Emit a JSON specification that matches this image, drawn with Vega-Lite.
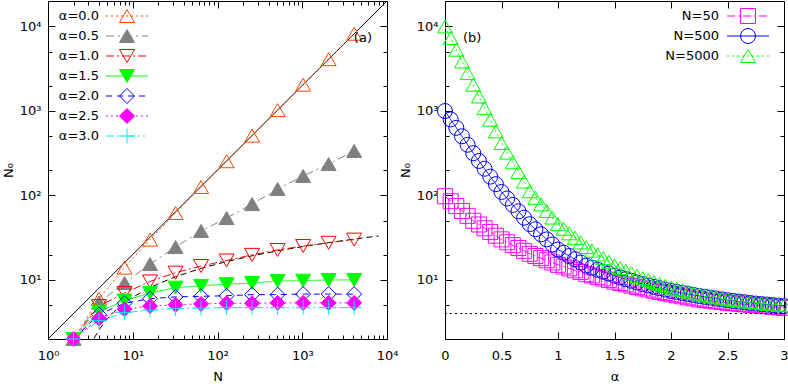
{
  "$schema": "https://vega.github.io/schema/vega-lite/v6.json",
  "background": "white",
  "padding": {"left": 1, "top": 0, "right": 0, "bottom": 0},
  "spacing": 58,
  "bounds": "flush",
  "resolve": {"scale": {"stroke": "independent", "strokeDash": "independent", "shape": "independent", "fill": "independent"}, "legend": {"stroke": "independent", "strokeDash": "independent", "shape": "independent", "fill": "independent"}},
  "config": {
    "font": "DejaVu Sans",
    "view": {"stroke": "black", "strokeWidth": 1},
    "axis": {"labelFont": "DejaVu Sans", "labelFontSize": 13, "labelColor": "black", "titleFont": "DejaVu Sans", "titleFontSize": 13, "titleFontWeight": "normal", "titleColor": "black", "tickColor": "black", "domain": false, "grid": false, "labelFlush": false, "labelOverlap": false, "labelBound": false, "offset": 0},
    "legend": {"labelFont": "DejaVu Sans", "labelFontSize": 13, "labelColor": "black", "labelLimit": 0, "padding": 0}
  },
  "datasets": {
    "diag": [{"N": 1, "N0": 2}, {"N": 10000, "N0": 20000}],
    "fit": [
      {"N": 3.5, "N0": 2.04}, {"N": 4, "N0": 2.57}, {"N": 5, "N0": 3.47}, {"N": 6, "N0": 4.2}, {"N": 8, "N0": 5.36}, {"N": 10, "N0": 6.26}, {"N": 16, "N0": 8.15}, {"N": 32, "N0": 10.93}, {"N": 64, "N0": 13.72}, {"N": 128, "N0": 16.51}, {"N": 256, "N0": 19.29}, {"N": 512, "N0": 22.08}, {"N": 1024, "N0": 24.86}, {"N": 2048, "N0": 27.65}, {"N": 4096, "N0": 30.44}, {"N": 8000, "N0": 33.13}
    ],
    "left": [
      {"alpha": "α=0.0", "N": 2, "N0": 2}, {"alpha": "α=0.0", "N": 4, "N0": 6}, {"alpha": "α=0.0", "N": 8, "N0": 14}, {"alpha": "α=0.0", "N": 16, "N0": 30}, {"alpha": "α=0.0", "N": 32, "N0": 62}, {"alpha": "α=0.0", "N": 64, "N0": 126}, {"alpha": "α=0.0", "N": 128, "N0": 254}, {"alpha": "α=0.0", "N": 256, "N0": 510}, {"alpha": "α=0.0", "N": 512, "N0": 1022}, {"alpha": "α=0.0", "N": 1024, "N0": 2046}, {"alpha": "α=0.0", "N": 2048, "N0": 4094}, {"alpha": "α=0.0", "N": 4096, "N0": 8190},
      {"alpha": "α=0.5", "N": 2, "N0": 2}, {"alpha": "α=0.5", "N": 4, "N0": 5.4}, {"alpha": "α=0.5", "N": 8, "N0": 9.2}, {"alpha": "α=0.5", "N": 16, "N0": 15.4}, {"alpha": "α=0.5", "N": 32, "N0": 24.5}, {"alpha": "α=0.5", "N": 64, "N0": 38}, {"alpha": "α=0.5", "N": 128, "N0": 54}, {"alpha": "α=0.5", "N": 256, "N0": 79}, {"alpha": "α=0.5", "N": 512, "N0": 119}, {"alpha": "α=0.5", "N": 1024, "N0": 170}, {"alpha": "α=0.5", "N": 2048, "N0": 235}, {"alpha": "α=0.5", "N": 4096, "N0": 336},
      {"alpha": "α=1.0", "N": 2, "N0": 2}, {"alpha": "α=1.0", "N": 4, "N0": 4.9}, {"alpha": "α=1.0", "N": 8, "N0": 7.0}, {"alpha": "α=1.0", "N": 16, "N0": 9.6}, {"alpha": "α=1.0", "N": 32, "N0": 12.2}, {"alpha": "α=1.0", "N": 64, "N0": 14.6}, {"alpha": "α=1.0", "N": 128, "N0": 17.0}, {"alpha": "α=1.0", "N": 256, "N0": 19.8}, {"alpha": "α=1.0", "N": 512, "N0": 22.6}, {"alpha": "α=1.0", "N": 1024, "N0": 25.2}, {"alpha": "α=1.0", "N": 2048, "N0": 27.5}, {"alpha": "α=1.0", "N": 4096, "N0": 30.0},
      {"alpha": "α=1.5", "N": 2, "N0": 2}, {"alpha": "α=1.5", "N": 4, "N0": 4.2}, {"alpha": "α=1.5", "N": 8, "N0": 5.7}, {"alpha": "α=1.5", "N": 16, "N0": 7.0}, {"alpha": "α=1.5", "N": 32, "N0": 8.1}, {"alpha": "α=1.5", "N": 64, "N0": 8.5}, {"alpha": "α=1.5", "N": 128, "N0": 8.9}, {"alpha": "α=1.5", "N": 256, "N0": 9.2}, {"alpha": "α=1.5", "N": 512, "N0": 9.7}, {"alpha": "α=1.5", "N": 1024, "N0": 9.8}, {"alpha": "α=1.5", "N": 2048, "N0": 10.0}, {"alpha": "α=1.5", "N": 4096, "N0": 10.0},
      {"alpha": "α=2.0", "N": 2, "N0": 2}, {"alpha": "α=2.0", "N": 4, "N0": 3.9}, {"alpha": "α=2.0", "N": 8, "N0": 5.3}, {"alpha": "α=2.0", "N": 16, "N0": 6.0}, {"alpha": "α=2.0", "N": 32, "N0": 6.3}, {"alpha": "α=2.0", "N": 64, "N0": 6.4}, {"alpha": "α=2.0", "N": 128, "N0": 6.5}, {"alpha": "α=2.0", "N": 256, "N0": 6.7}, {"alpha": "α=2.0", "N": 512, "N0": 6.7}, {"alpha": "α=2.0", "N": 1024, "N0": 6.8}, {"alpha": "α=2.0", "N": 2048, "N0": 6.8}, {"alpha": "α=2.0", "N": 4096, "N0": 6.8},
      {"alpha": "α=2.5", "N": 2, "N0": 2}, {"alpha": "α=2.5", "N": 4, "N0": 3.5}, {"alpha": "α=2.5", "N": 8, "N0": 4.5}, {"alpha": "α=2.5", "N": 16, "N0": 4.9}, {"alpha": "α=2.5", "N": 32, "N0": 5.1}, {"alpha": "α=2.5", "N": 64, "N0": 5.2}, {"alpha": "α=2.5", "N": 128, "N0": 5.3}, {"alpha": "α=2.5", "N": 256, "N0": 5.3}, {"alpha": "α=2.5", "N": 512, "N0": 5.35}, {"alpha": "α=2.5", "N": 1024, "N0": 5.35}, {"alpha": "α=2.5", "N": 2048, "N0": 5.35}, {"alpha": "α=2.5", "N": 4096, "N0": 5.35},
      {"alpha": "α=3.0", "N": 2, "N0": 2}, {"alpha": "α=3.0", "N": 4, "N0": 3.3}, {"alpha": "α=3.0", "N": 8, "N0": 4.1}, {"alpha": "α=3.0", "N": 16, "N0": 4.4}, {"alpha": "α=3.0", "N": 32, "N0": 4.6}, {"alpha": "α=3.0", "N": 64, "N0": 4.65}, {"alpha": "α=3.0", "N": 128, "N0": 4.7}, {"alpha": "α=3.0", "N": 256, "N0": 4.7}, {"alpha": "α=3.0", "N": 512, "N0": 4.7}, {"alpha": "α=3.0", "N": 1024, "N0": 4.7}, {"alpha": "α=3.0", "N": 2048, "N0": 4.7}, {"alpha": "α=3.0", "N": 4096, "N0": 4.7}
    ],
    "right": [
      {"N": "N=50", "alpha": 0, "N0": 98}, {"N": "N=50", "alpha": 0.05, "N0": 85.5}, {"N": "N=50", "alpha": 0.1, "N0": 74.8}, {"N": "N=50", "alpha": 0.15, "N0": 65.5}, {"N": "N=50", "alpha": 0.2, "N0": 57.3}, {"N": "N=50", "alpha": 0.25, "N0": 50.1}, {"N": "N=50", "alpha": 0.3, "N0": 45.3}, {"N": "N=50", "alpha": 0.35, "N0": 40.9}, {"N": "N=50", "alpha": 0.4, "N0": 37.0}, {"N": "N=50", "alpha": 0.45, "N0": 33.4}, {"N": "N=50", "alpha": 0.5, "N0": 30.2}, {"N": "N=50", "alpha": 0.55, "N0": 27.9}, {"N": "N=50", "alpha": 0.6, "N0": 25.8}, {"N": "N=50", "alpha": 0.65, "N0": 23.9}, {"N": "N=50", "alpha": 0.7, "N0": 22.1}, {"N": "N=50", "alpha": 0.75, "N0": 20.4}, {"N": "N=50", "alpha": 0.8, "N0": 19.2}, {"N": "N=50", "alpha": 0.85, "N0": 18.1}, {"N": "N=50", "alpha": 0.9, "N0": 17.1}, {"N": "N=50", "alpha": 0.95, "N0": 16.1}, {"N": "N=50", "alpha": 1.0, "N0": 15.1}, {"N": "N=50", "alpha": 1.05, "N0": 14.4}, {"N": "N=50", "alpha": 1.1, "N0": 13.7}, {"N": "N=50", "alpha": 1.15, "N0": 13.0}, {"N": "N=50", "alpha": 1.2, "N0": 12.4}, {"N": "N=50", "alpha": 1.25, "N0": 11.7}, {"N": "N=50", "alpha": 1.3, "N0": 11.3}, {"N": "N=50", "alpha": 1.35, "N0": 10.8}, {"N": "N=50", "alpha": 1.4, "N0": 10.4}, {"N": "N=50", "alpha": 1.45, "N0": 9.95}, {"N": "N=50", "alpha": 1.5, "N0": 9.55}, {"N": "N=50", "alpha": 1.55, "N0": 9.2}, {"N": "N=50", "alpha": 1.6, "N0": 8.87}, {"N": "N=50", "alpha": 1.65, "N0": 8.55}, {"N": "N=50", "alpha": 1.7, "N0": 8.24}, {"N": "N=50", "alpha": 1.75, "N0": 7.94}, {"N": "N=50", "alpha": 1.8, "N0": 7.69}, {"N": "N=50", "alpha": 1.85, "N0": 7.45}, {"N": "N=50", "alpha": 1.9, "N0": 7.21}, {"N": "N=50", "alpha": 1.95, "N0": 6.98}, {"N": "N=50", "alpha": 2.0, "N0": 6.76}, {"N": "N=50", "alpha": 2.05, "N0": 6.58}, {"N": "N=50", "alpha": 2.1, "N0": 6.4}, {"N": "N=50", "alpha": 2.15, "N0": 6.22}, {"N": "N=50", "alpha": 2.2, "N0": 6.05}, {"N": "N=50", "alpha": 2.25, "N0": 5.89}, {"N": "N=50", "alpha": 2.3, "N0": 5.78}, {"N": "N=50", "alpha": 2.35, "N0": 5.68}, {"N": "N=50", "alpha": 2.4, "N0": 5.57}, {"N": "N=50", "alpha": 2.45, "N0": 5.47}, {"N": "N=50", "alpha": 2.5, "N0": 5.37}, {"N": "N=50", "alpha": 2.55, "N0": 5.3}, {"N": "N=50", "alpha": 2.6, "N0": 5.22}, {"N": "N=50", "alpha": 2.65, "N0": 5.15}, {"N": "N=50", "alpha": 2.7, "N0": 5.08}, {"N": "N=50", "alpha": 2.75, "N0": 5.01}, {"N": "N=50", "alpha": 2.8, "N0": 4.94}, {"N": "N=50", "alpha": 2.85, "N0": 4.88}, {"N": "N=50", "alpha": 2.9, "N0": 4.81}, {"N": "N=50", "alpha": 2.95, "N0": 4.74}, {"N": "N=50", "alpha": 3.0, "N0": 4.68},
      {"N": "N=500", "alpha": 0, "N0": 998}, {"N": "N=500", "alpha": 0.05, "N0": 794}, {"N": "N=500", "alpha": 0.1, "N0": 631}, {"N": "N=500", "alpha": 0.15, "N0": 501}, {"N": "N=500", "alpha": 0.2, "N0": 398}, {"N": "N=500", "alpha": 0.25, "N0": 316}, {"N": "N=500", "alpha": 0.3, "N0": 256}, {"N": "N=500", "alpha": 0.35, "N0": 207}, {"N": "N=500", "alpha": 0.4, "N0": 167}, {"N": "N=500", "alpha": 0.45, "N0": 136}, {"N": "N=500", "alpha": 0.5, "N0": 110}, {"N": "N=500", "alpha": 0.55, "N0": 92.0}, {"N": "N=500", "alpha": 0.6, "N0": 77.3}, {"N": "N=500", "alpha": 0.65, "N0": 64.9}, {"N": "N=500", "alpha": 0.7, "N0": 54.5}, {"N": "N=500", "alpha": 0.75, "N0": 45.7}, {"N": "N=500", "alpha": 0.8, "N0": 39.8}, {"N": "N=500", "alpha": 0.85, "N0": 34.7}, {"N": "N=500", "alpha": 0.9, "N0": 30.2}, {"N": "N=500", "alpha": 0.95, "N0": 26.3}, {"N": "N=500", "alpha": 1.0, "N0": 22.9}, {"N": "N=500", "alpha": 1.05, "N0": 21.0}, {"N": "N=500", "alpha": 1.1, "N0": 19.2}, {"N": "N=500", "alpha": 1.15, "N0": 17.6}, {"N": "N=500", "alpha": 1.2, "N0": 16.1}, {"N": "N=500", "alpha": 1.25, "N0": 14.8}, {"N": "N=500", "alpha": 1.3, "N0": 14.0}, {"N": "N=500", "alpha": 1.35, "N0": 13.2}, {"N": "N=500", "alpha": 1.4, "N0": 12.5}, {"N": "N=500", "alpha": 1.45, "N0": 11.9}, {"N": "N=500", "alpha": 1.5, "N0": 11.2}, {"N": "N=500", "alpha": 1.55, "N0": 10.7}, {"N": "N=500", "alpha": 1.6, "N0": 10.2}, {"N": "N=500", "alpha": 1.65, "N0": 9.77}, {"N": "N=500", "alpha": 1.7, "N0": 9.33}, {"N": "N=500", "alpha": 1.75, "N0": 8.91}, {"N": "N=500", "alpha": 1.8, "N0": 8.59}, {"N": "N=500", "alpha": 1.85, "N0": 8.28}, {"N": "N=500", "alpha": 1.9, "N0": 7.98}, {"N": "N=500", "alpha": 1.95, "N0": 7.69}, {"N": "N=500", "alpha": 2.0, "N0": 7.41}, {"N": "N=500", "alpha": 2.05, "N0": 7.21}, {"N": "N=500", "alpha": 2.1, "N0": 7.01}, {"N": "N=500", "alpha": 2.15, "N0": 6.82}, {"N": "N=500", "alpha": 2.2, "N0": 6.64}, {"N": "N=500", "alpha": 2.25, "N0": 6.46}, {"N": "N=500", "alpha": 2.3, "N0": 6.31}, {"N": "N=500", "alpha": 2.35, "N0": 6.17}, {"N": "N=500", "alpha": 2.4, "N0": 6.03}, {"N": "N=500", "alpha": 2.45, "N0": 5.89}, {"N": "N=500", "alpha": 2.5, "N0": 5.75}, {"N": "N=500", "alpha": 2.55, "N0": 5.65}, {"N": "N=500", "alpha": 2.6, "N0": 5.55}, {"N": "N=500", "alpha": 2.65, "N0": 5.45}, {"N": "N=500", "alpha": 2.7, "N0": 5.35}, {"N": "N=500", "alpha": 2.75, "N0": 5.25}, {"N": "N=500", "alpha": 2.8, "N0": 5.18}, {"N": "N=500", "alpha": 2.85, "N0": 5.11}, {"N": "N=500", "alpha": 2.9, "N0": 5.04}, {"N": "N=500", "alpha": 2.95, "N0": 4.97}, {"N": "N=500", "alpha": 3.0, "N0": 4.9},
      {"N": "N=5000", "alpha": 0, "N0": 9998}, {"N": "N=5000", "alpha": 0.05, "N0": 7280}, {"N": "N=5000", "alpha": 0.1, "N0": 5300}, {"N": "N=5000", "alpha": 0.15, "N0": 3855}, {"N": "N=5000", "alpha": 0.2, "N0": 2805}, {"N": "N=5000", "alpha": 0.25, "N0": 2042}, {"N": "N=5000", "alpha": 0.3, "N0": 1486}, {"N": "N=5000", "alpha": 0.35, "N0": 1081}, {"N": "N=5000", "alpha": 0.4, "N0": 787}, {"N": "N=5000", "alpha": 0.45, "N0": 573}, {"N": "N=5000", "alpha": 0.5, "N0": 417}, {"N": "N=5000", "alpha": 0.55, "N0": 321}, {"N": "N=5000", "alpha": 0.6, "N0": 247}, {"N": "N=5000", "alpha": 0.65, "N0": 190}, {"N": "N=5000", "alpha": 0.7, "N0": 146}, {"N": "N=5000", "alpha": 0.75, "N0": 112}, {"N": "N=5000", "alpha": 0.8, "N0": 93.8}, {"N": "N=5000", "alpha": 0.85, "N0": 78.3}, {"N": "N=5000", "alpha": 0.9, "N0": 65.5}, {"N": "N=5000", "alpha": 0.95, "N0": 54.7}, {"N": "N=5000", "alpha": 1.0, "N0": 45.7}, {"N": "N=5000", "alpha": 1.05, "N0": 40.4}, {"N": "N=5000", "alpha": 1.1, "N0": 35.6}, {"N": "N=5000", "alpha": 1.15, "N0": 31.5}, {"N": "N=5000", "alpha": 1.2, "N0": 27.8}, {"N": "N=5000", "alpha": 1.25, "N0": 24.5}, {"N": "N=5000", "alpha": 1.3, "N0": 22.2}, {"N": "N=5000", "alpha": 1.35, "N0": 20.0}, {"N": "N=5000", "alpha": 1.4, "N0": 18.1}, {"N": "N=5000", "alpha": 1.45, "N0": 16.4}, {"N": "N=5000", "alpha": 1.5, "N0": 14.8}, {"N": "N=5000", "alpha": 1.55, "N0": 13.8}, {"N": "N=5000", "alpha": 1.6, "N0": 12.9}, {"N": "N=5000", "alpha": 1.65, "N0": 12.0}, {"N": "N=5000", "alpha": 1.7, "N0": 11.2}, {"N": "N=5000", "alpha": 1.75, "N0": 10.5}, {"N": "N=5000", "alpha": 1.8, "N0": 9.95}, {"N": "N=5000", "alpha": 1.85, "N0": 9.46}, {"N": "N=5000", "alpha": 1.9, "N0": 8.99}, {"N": "N=5000", "alpha": 1.95, "N0": 8.55}, {"N": "N=5000", "alpha": 2.0, "N0": 8.13}, {"N": "N=5000", "alpha": 2.05, "N0": 7.83}, {"N": "N=5000", "alpha": 2.1, "N0": 7.55}, {"N": "N=5000", "alpha": 2.15, "N0": 7.28}, {"N": "N=5000", "alpha": 2.2, "N0": 7.01}, {"N": "N=5000", "alpha": 2.25, "N0": 6.76}, {"N": "N=5000", "alpha": 2.3, "N0": 6.58}, {"N": "N=5000", "alpha": 2.35, "N0": 6.4}, {"N": "N=5000", "alpha": 2.4, "N0": 6.22}, {"N": "N=5000", "alpha": 2.45, "N0": 6.05}, {"N": "N=5000", "alpha": 2.5, "N0": 5.89}, {"N": "N=5000", "alpha": 2.55, "N0": 5.78}, {"N": "N=5000", "alpha": 2.6, "N0": 5.68}, {"N": "N=5000", "alpha": 2.65, "N0": 5.57}, {"N": "N=5000", "alpha": 2.7, "N0": 5.47}, {"N": "N=5000", "alpha": 2.75, "N0": 5.37}, {"N": "N=5000", "alpha": 2.8, "N0": 5.3}, {"N": "N=5000", "alpha": 2.85, "N0": 5.22}, {"N": "N=5000", "alpha": 2.9, "N0": 5.15}, {"N": "N=5000", "alpha": 2.95, "N0": 5.08}, {"N": "N=5000", "alpha": 3.0, "N0": 5.01}
    ]
  },
  "hconcat": [
    {
      "width": 339,
      "height": 338,
      "layer": [
        {
          "data": {"name": "diag"},
          "mark": {"type": "line", "color": "black", "strokeWidth": 1, "clip": true},
          "encoding": {
            "x": {"field": "N", "type": "quantitative", "scale": {"type": "log", "domain": [1, 10000], "nice": false},
              "axis": {"orient": "bottom", "values": [1, 10, 100, 1000, 10000], "labelExpr": "'10' + ['⁰','¹','²','³','⁴'][round(log(datum.value)/LN10)]", "title": "N", "tickSize": -7, "labelPadding": 17, "titlePadding": 8}},
            "y": {"field": "N0", "type": "quantitative", "scale": {"type": "log", "domain": [2, 20000], "nice": false},
              "axis": {"orient": "left", "values": [10, 100, 1000, 10000], "labelExpr": "'10' + ['⁰','¹','²','³','⁴'][round(log(datum.value)/LN10)]", "title": "N₀", "tickSize": -7, "labelPadding": 14, "titlePadding": 4}}
          }
        },
        {
          "data": {"name": "fit"},
          "mark": {"type": "line", "color": "black", "strokeWidth": 1, "strokeDash": [6, 4], "clip": true},
          "encoding": {
            "x": {"field": "N", "type": "quantitative", "scale": {"type": "log", "domain": [1, 10000], "nice": false},
              "axis": {"orient": "bottom", "values": [2, 3, 4, 5, 6, 7, 8, 9, 20, 30, 40, 50, 60, 70, 80, 90, 200, 300, 400, 500, 600, 700, 800, 900, 2000, 3000, 4000, 5000, 6000, 7000, 8000, 9000], "labels": false, "title": null, "tickSize": -4}},
            "y": {"field": "N0", "type": "quantitative", "scale": {"type": "log", "domain": [2, 20000], "nice": false},
              "axis": {"orient": "left", "values": [5, 20, 50, 200, 500, 2000, 5000], "labels": false, "title": null, "tickSize": -4}}
          }
        },
        {
          "data": {"name": "left"},
          "mark": {"type": "line", "strokeWidth": 1, "clip": true},
          "encoding": {
            "x": {"field": "N", "type": "quantitative", "scale": {"type": "log", "domain": [1, 10000], "nice": false},
              "axis": {"orient": "top", "values": [1, 10, 100, 1000, 10000], "labels": false, "title": null, "tickSize": -7}},
            "y": {"field": "N0", "type": "quantitative", "scale": {"type": "log", "domain": [2, 20000], "nice": false},
              "axis": {"orient": "right", "values": [10, 100, 1000, 10000], "labels": false, "title": null, "tickSize": -7}},
            "stroke": {"field": "alpha", "type": "nominal",
              "scale": {"domain": ["α=0.0", "α=0.5", "α=1.0", "α=1.5", "α=2.0", "α=2.5", "α=3.0"], "range": ["#ff4500", "#808080", "#ff0000", "#00ff00", "#0000ff", "#ff00ff", "#00eeee"]},
              "legend": {"orient": "none", "legendX": 71, "legendY": 7, "title": null, "symbolType": "M-2.8,0H2.8M0,-1M0,1", "symbolSize": 225, "symbolStrokeWidth": 1, "symbolFillColor": "transparent", "labelExpr": "''", "gridAlign": "all", "rowPadding": 0, "padding": 0}},
            "strokeDash": {"field": "alpha", "type": "nominal",
              "scale": {"domain": ["α=0.0", "α=0.5", "α=1.0", "α=1.5", "α=2.0", "α=2.5", "α=3.0"], "range": [[2, 3], [8, 4, 2, 4], [8, 3, 2, 3], [1, 0], [6, 5], [2, 3], [8, 3, 2, 3, 2, 3]]},
              "legend": {"orient": "none", "legendX": 71, "legendY": 7, "title": null, "symbolType": "M-2.8,0H2.8M0,-1M0,1", "symbolSize": 225, "symbolStrokeWidth": 1, "symbolFillColor": "transparent", "labelExpr": "''", "gridAlign": "all", "rowPadding": 0, "padding": 0}}
          }
        },
        {
          "data": {"name": "left"},
          "mark": {"type": "point", "size": 225, "strokeWidth": 1, "opacity": 1},
          "encoding": {
            "x": {"field": "N", "type": "quantitative", "scale": {"type": "log", "domain": [1, 10000], "nice": false},
              "axis": {"orient": "top", "values": [2, 3, 4, 5, 6, 7, 8, 9, 20, 30, 40, 50, 60, 70, 80, 90, 200, 300, 400, 500, 600, 700, 800, 900, 2000, 3000, 4000, 5000, 6000, 7000, 8000, 9000], "labels": false, "title": null, "tickSize": -4}},
            "y": {"field": "N0", "type": "quantitative", "scale": {"type": "log", "domain": [2, 20000], "nice": false},
              "axis": {"orient": "right", "values": [5, 20, 50, 200, 500, 2000, 5000], "labels": false, "title": null, "tickSize": -4}},
            "shape": {"field": "alpha", "type": "nominal",
              "scale": {"domain": ["α=0.0", "α=0.5", "α=1.0", "α=1.5", "α=2.0", "α=2.5", "α=3.0"], "range": ["triangle-up", "triangle-up", "triangle-down", "triangle-down", "diamond", "diamond", "M-1,0H1M0,-1V1"]},
              "legend": {"orient": "none", "legendX": 71, "legendY": 7, "title": null, "symbolSize": 225, "symbolStrokeWidth": 1, "labelAlign": "right", "labelOffset": -36, "gridAlign": "all", "rowPadding": 0, "padding": 0,
                "encode": {"symbols": {"update": {
                  "stroke": {"signal": "['#ff4500','#808080','#ff0000','#00ff00','#0000ff','#ff00ff','#00eeee'][indexof(['α=0.0','α=0.5','α=1.0','α=1.5','α=2.0','α=2.5','α=3.0'], datum.value)]"},
                  "fill": {"signal": "['transparent','#808080','transparent','#00ff00','transparent','#ff00ff','transparent'][indexof(['α=0.0','α=0.5','α=1.0','α=1.5','α=2.0','α=2.5','α=3.0'], datum.value)]"},
                  "strokeWidth": {"value": 1}, "opacity": {"value": 1}, "fillOpacity": {"value": 1}, "strokeOpacity": {"value": 1}}}}}},
            "stroke": {"field": "alpha", "type": "nominal",
              "scale": {"domain": ["α=0.0", "α=0.5", "α=1.0", "α=1.5", "α=2.0", "α=2.5", "α=3.0"], "range": ["#ff4500", "#808080", "#ff0000", "#00ff00", "#0000ff", "#ff00ff", "#00eeee"]},
              "legend": null},
            "fill": {"field": "alpha", "type": "nominal",
              "scale": {"domain": ["α=0.0", "α=0.5", "α=1.0", "α=1.5", "α=2.0", "α=2.5", "α=3.0"], "range": ["transparent", "#808080", "transparent", "#00ff00", "transparent", "#ff00ff", "transparent"]},
              "legend": null}
          }
        },
        {
          "data": {"values": [{}]},
          "mark": {"type": "text", "text": "(a)", "fontSize": 13, "font": "DejaVu Sans", "color": "black", "align": "center", "baseline": "middle"},
          "encoding": {
            "x": {"datum": 5200, "type": "quantitative", "axis": null},
            "y": {"datum": 7300, "type": "quantitative", "axis": null}
          }
        }
      ],
      "resolve": {"axis": {"x": "independent", "y": "independent"}, "scale": {"stroke": "independent"}, "legend": {"stroke": "independent", "strokeDash": "independent", "shape": "independent", "fill": "independent"}}
    },
    {
      "width": 339,
      "height": 338,
      "layer": [
        {
          "data": {"name": "right"},
          "mark": {"type": "line", "strokeWidth": 1, "clip": true},
          "encoding": {
            "x": {"field": "alpha", "type": "quantitative", "scale": {"domain": [0, 3], "nice": false, "zero": false},
              "axis": {"orient": "bottom", "values": [0, 0.5, 1, 1.5, 2, 2.5, 3], "format": "~g", "title": "α", "tickSize": -7, "labelPadding": 17, "titlePadding": 8}},
            "y": {"field": "N0", "type": "quantitative", "scale": {"type": "log", "domain": [2, 20000], "nice": false},
              "axis": {"orient": "left", "values": [10, 100, 1000, 10000], "labelExpr": "'10' + ['⁰','¹','²','³','⁴'][round(log(datum.value)/LN10)]", "title": "N₀", "tickSize": -7, "labelPadding": 14, "titlePadding": 4}},
            "stroke": {"field": "N", "type": "nominal",
              "scale": {"domain": ["N=50", "N=500", "N=5000"], "range": ["#ff00ff", "#0000ff", "#00ff00"]},
              "legend": {"orient": "none", "legendX": 295, "legendY": 7, "title": null, "symbolType": "M-2.8,0H2.8M0,-1M0,1", "symbolSize": 225, "symbolStrokeWidth": 1, "symbolFillColor": "transparent", "labelExpr": "''", "gridAlign": "all", "rowPadding": 0, "padding": 0}},
            "strokeDash": {"field": "N", "type": "nominal",
              "scale": {"domain": ["N=50", "N=500", "N=5000"], "range": [[8, 3, 2, 3], [1, 0], [2, 3]]},
              "legend": {"orient": "none", "legendX": 295, "legendY": 7, "title": null, "symbolType": "M-2.8,0H2.8M0,-1M0,1", "symbolSize": 225, "symbolStrokeWidth": 1, "symbolFillColor": "transparent", "labelExpr": "''", "gridAlign": "all", "rowPadding": 0, "padding": 0}}
          }
        },
        {
          "data": {"name": "right"},
          "mark": {"type": "point", "size": 225, "strokeWidth": 1, "opacity": 1, "filled": false},
          "encoding": {
            "x": {"field": "alpha", "type": "quantitative", "scale": {"domain": [0, 3], "nice": false, "zero": false},
              "axis": {"orient": "top", "values": [0, 0.5, 1, 1.5, 2, 2.5, 3], "labels": false, "title": null, "tickSize": -7}},
            "y": {"field": "N0", "type": "quantitative", "scale": {"type": "log", "domain": [2, 20000], "nice": false},
              "axis": {"orient": "right", "values": [10, 100, 1000, 10000], "labels": false, "title": null, "tickSize": -7}},
            "shape": {"field": "N", "type": "nominal",
              "scale": {"domain": ["N=50", "N=500", "N=5000"], "range": ["square", "circle", "triangle-up"]},
              "legend": {"orient": "none", "legendX": 295, "legendY": 7, "title": null, "symbolSize": 225, "symbolStrokeWidth": 1, "labelAlign": "right", "labelOffset": -37, "gridAlign": "all", "rowPadding": 0, "padding": 0,
                "encode": {"symbols": {"update": {
                  "stroke": {"signal": "['#ff00ff','#0000ff','#00ff00'][indexof(['N=50','N=500','N=5000'], datum.value)]"},
                  "fill": {"value": "transparent"},
                  "strokeWidth": {"value": 1}, "opacity": {"value": 1}, "strokeOpacity": {"value": 1}}}}}},
            "stroke": {"field": "N", "type": "nominal",
              "scale": {"domain": ["N=50", "N=500", "N=5000"], "range": ["#ff00ff", "#0000ff", "#00ff00"]},
              "legend": null}
          }
        },
        {
          "data": {"values": [{}]},
          "mark": {"type": "rule", "color": "black", "strokeWidth": 1, "strokeDash": [2, 3]},
          "encoding": {
            "x": {"datum": 0, "type": "quantitative", "axis": null},
            "x2": {"datum": 3},
            "y": {"datum": 4, "type": "quantitative",
              "axis": {"orient": "left", "values": [5, 20, 50, 200, 500, 2000, 5000], "labels": false, "title": null, "tickSize": -4}}
          }
        },
        {
          "data": {"values": [{}]},
          "mark": {"type": "text", "text": "(b)", "fontSize": 13, "font": "DejaVu Sans", "color": "black", "align": "center", "baseline": "middle"},
          "encoding": {
            "x": {"datum": 0.24, "type": "quantitative", "axis": null},
            "y": {"datum": 7300, "type": "quantitative",
              "axis": {"orient": "right", "values": [5, 20, 50, 200, 500, 2000, 5000], "labels": false, "title": null, "tickSize": -4}}
          }
        }
      ],
      "resolve": {"axis": {"x": "independent", "y": "independent"}, "scale": {"stroke": "independent"}, "legend": {"stroke": "independent", "strokeDash": "independent", "shape": "independent"}}
    }
  ]
}
